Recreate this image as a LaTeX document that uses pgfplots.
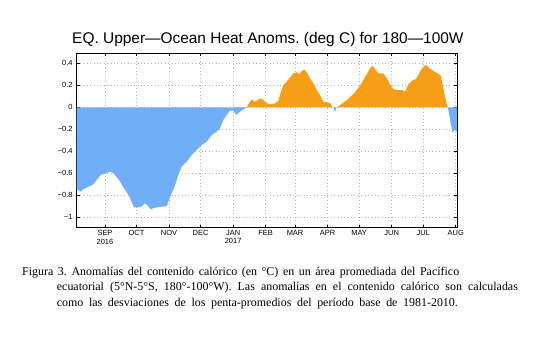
\documentclass[border=0pt]{standalone}
\usepackage{fontspec}
\setmainfont{Liberation Sans}
\newfontfamily\capfont{Liberation Serif}
\usepackage{pgfplots}
\pgfplotsset{compat=1.18}
\definecolor{negblue}{RGB}{112,175,248}
\definecolor{posorange}{RGB}{248,158,22}
\begin{document}
\frenchspacing
\begin{tikzpicture}
\path[use as bounding box] (0,0) rectangle (538bp,340bp);
\begin{axis}[
  at={(76.7bp,112.3bp)}, anchor=south west,
  scale only axis, width=380.3bp, height=174.7bp,
  xmin=-26.95, xmax=335.2, ymin=-1.095, ymax=0.494,
  axis line style={black, line width=0.8pt},
  tick align=inside, tick pos=both,
  major tick length=3bp,
  tick style={black, line width=0.6pt},
  grid=major,
  major grid style={gray!60, dash pattern=on 0.8pt off 2.6pt, line width=0.5pt},
  xtick={0,30,61,91,122,153,181,212,242,273,303,334},
  xticklabels={SEP\\2016, OCT, NOV, DEC, JAN\\2017, FEB, MAR, APR, MAY, JUN, JUL, AUG},
  x tick label style={font=\fontsize{7.5}{8.5}\selectfont, align=center, inner sep=1.5pt, yshift=-1pt},
  ytick={-1,-0.8,-0.6,-0.4,-0.2,0,0.2,0.4},
  yticklabels={−1,−0.8,−0.6,−0.4,−0.2,0,0.2,0.4},
  y tick label style={font=\fontsize{7.5}{8.5}\selectfont, inner sep=2pt, xshift=-2pt},
]
\addplot[fill=negblue, draw=none] coordinates {
(-27,0) (-27,-0.745) (-23,-0.767) (-20.7,-0.745) (-16.8,-0.727) (-12,-0.706) (-7.3,-0.655)
(-4.1,-0.615) (0.6,-0.60) (5.4,-0.585) (8.6,-0.605) (13.3,-0.66) (18,-0.736) (22.9,-0.806)
(27.6,-0.91) (32.4,-0.91) (35.6,-0.897) (37.8,-0.873) (40.3,-0.89) (43.5,-0.927) (48.3,-0.912)
(52.4,-0.905) (58.8,-0.90) (60.3,-0.86) (63.5,-0.78) (66.7,-0.71) (69.8,-0.615) (73,-0.54)
(77.8,-0.494) (82.6,-0.434) (87.3,-0.388) (92.1,-0.343) (96.9,-0.312) (101.6,-0.252)
(106.4,-0.222) (109.5,-0.19) (112.7,-0.115) (115.9,-0.07) (119,-0.03) (122.2,-0.03)
(124.8,-0.07) (128.6,-0.04) (133.3,-0.01) (135,0)
} \closedcycle;
\addplot[fill=posorange, draw=none] coordinates {
(135,0) (136.5,0.027) (139.7,0.073) (142.2,0.052) (144.5,0.058) (147.6,0.082) (149.8,0.073)
(152.4,0.052) (155.5,0.027) (158.8,0.03) (161.9,0.036) (165,0.058) (167.6,0.142) (169.8,0.203)
(173,0.233) (176.2,0.27) (179.3,0.309) (182.6,0.318) (185,0.30) (187.3,0.33) (189.8,0.345)
(192.1,0.318) (195.2,0.264) (198.4,0.218) (201.6,0.158) (204.8,0.112) (207.9,0.052)
(211.1,0.045) (214.3,0.036) (216.5,0.006) (217,0)
} \closedcycle;
\addplot[fill=negblue, draw=none] coordinates {
(217.5,0) (219,-0.04) (220.5,0)
} \closedcycle;
\addplot[fill=posorange, draw=none] coordinates {
(220.5,0) (223.8,0.02) (228.6,0.052) (233.3,0.092) (238.1,0.136) (242.9,0.197) (246,0.248)
(249.2,0.30) (252.4,0.355) (255,0.379) (257.1,0.348) (260.3,0.309) (265,0.309) (268.3,0.264)
(271.4,0.209) (274.6,0.164) (277.8,0.158) (282.6,0.158) (285.7,0.142) (288.9,0.209)
(292.1,0.239) (296.2,0.258) (300,0.324) (303.1,0.37) (305.7,0.385) (308.9,0.355) (312.7,0.33)
(316.5,0.309) (319.7,0.288) (322.2,0.173) (324.8,0.052) (326.4,0)
} \closedcycle;
\addplot[fill=negblue, draw=none] coordinates {
(326.4,0) (327.9,-0.07) (329.5,-0.16) (330.8,-0.227) (332.7,-0.206) (334.3,-0.215) (335.2,-0.22) (335.2,0)
} \closedcycle;
\end{axis}
\node[anchor=base, inner sep=0, font=\fontsize{15.5}{18}\selectfont] at (267.9bp,296bp)
  {EQ. Upper---Ocean Heat Anoms. (deg C) for 180---100W};
\node[anchor=base west, inner sep=0, font=\capfont\fontsize{12}{14}\selectfont] at (22bp,64.3bp)
  {\makebox[437bp][s]{Figura 3. Anomalías del contenido calórico (en °C) en un área promediada del Pacífico}};
\node[anchor=base west, inner sep=0, font=\capfont\fontsize{12}{14}\selectfont] at (56.7bp,49bp)
  {\makebox[461bp][s]{ecuatorial (5°N-5°S, 180°-100°W). Las anomalías en el contenido calórico son calculadas}};
\node[anchor=base west, inner sep=0, font=\capfont\fontsize{12}{14}\selectfont] at (56.7bp,33.3bp)
  {\makebox[401bp][s]{como las desviaciones de los penta-promedios del período base de 1981-2010.}};
\end{tikzpicture}
\end{document}
